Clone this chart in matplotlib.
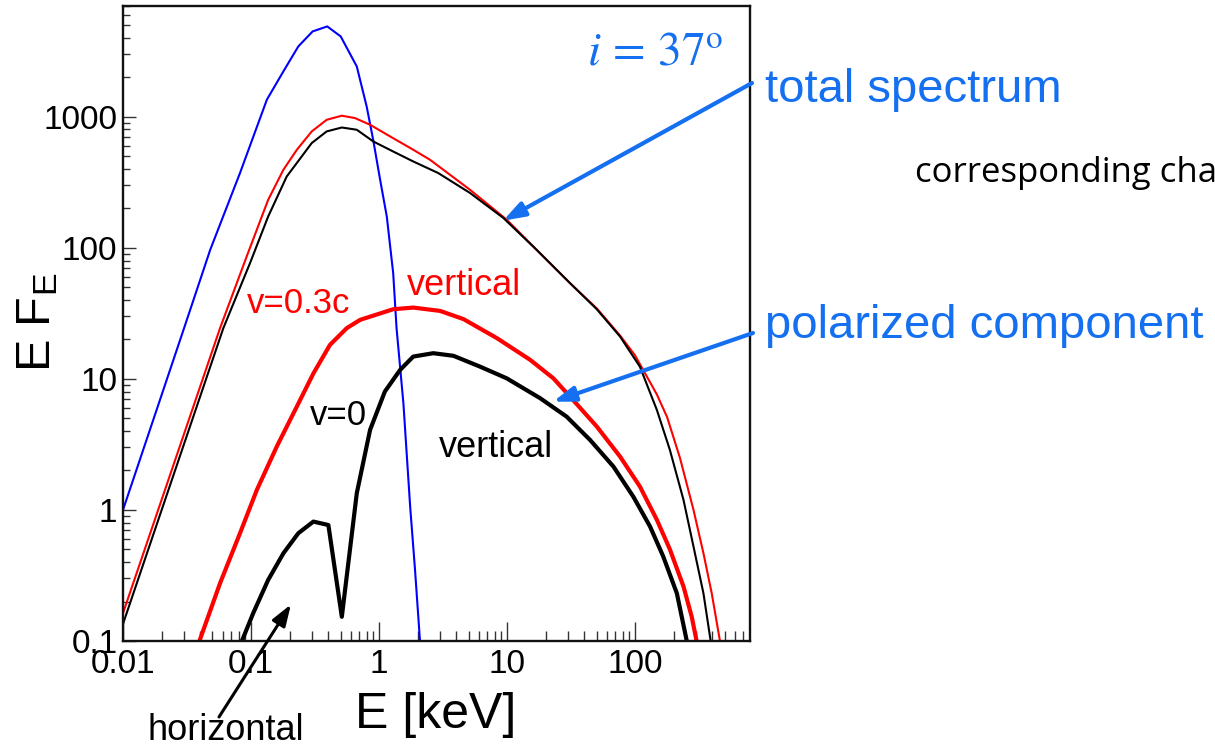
import numpy as np
import matplotlib
matplotlib.use("Agg")
import matplotlib.pyplot as plt
from matplotlib.ticker import FixedLocator, FixedFormatter, NullFormatter

plt.rcParams['font.family'] = ['Liberation Sans', 'DejaVu Sans']
plt.rcParams['mathtext.fontset'] = 'custom'
plt.rcParams['mathtext.rm'] = 'Liberation Sans'
plt.rcParams['mathtext.it'] = 'Liberation Sans:italic'

# total spectrum, thermal (blue)
e_blue = [0.01, 0.03, 0.048, 0.082, 0.133, 0.179, 0.234, 0.303, 0.394, 0.502,
          0.67, 0.80, 0.90, 1.02, 1.15, 1.29, 1.37, 1.55, 1.75, 1.91, 2.09]
f_blue = [1.0, 24.4, 96.6, 372, 1350, 2220, 3440, 4480, 4890, 4100,
          2420, 1200, 667, 330, 173, 64, 24.4, 6.5, 1.06, 0.35, 0.099]

# total spectrum, v=0.3c (red thin)
e_tot03 = [0.01, 0.0573, 0.0925, 0.136, 0.179, 0.228, 0.298, 0.390, 0.512, 0.649,
           0.851, 1.22, 1.85, 2.50, 5.14, 9.93, 17.0, 31.0, 50.2, 76.4,
           100, 148, 178, 224, 286, 342, 397, 461]
f_tot03 = [0.163, 24.4, 85.9, 232, 394, 560, 773, 948, 1019, 977,
           869, 708, 560, 470, 277, 164, 96.6, 53.8, 34.5, 21.4,
           15.1, 7.6, 5.1, 2.5, 1.0, 0.467, 0.231, 0.099]

# total spectrum, v=0 (black thin)
e_tot0 = [0.01, 0.0608, 0.0982, 0.136, 0.190, 0.298, 0.390, 0.512, 0.670, 0.904,
          1.29, 1.85, 2.90, 5.14, 9.35, 17.0, 31.0, 50.2, 76.4, 109,
          148, 187, 239, 286, 342, 390]
f_tot0 = [0.135, 24.4, 76.4, 173, 350, 630, 773, 828, 796, 647,
          543, 456, 372, 262, 169, 96.6, 53.8, 34.0, 21.0, 12.4,
          5.79, 2.87, 1.19, 0.525, 0.231, 0.099]

# polarized component, v=0.3c (red thick)
e_pol03 = [0.0394, 0.0573, 0.082, 0.111, 0.159, 0.228, 0.307, 0.414, 0.560, 0.711,
           1.29, 1.85, 3.00, 4.56, 8.30, 15.1, 23.0, 31.0, 50.2, 76.4,
           109, 148, 187, 239, 277, 303]
f_pol03 = [0.099, 0.276, 0.664, 1.42, 3.05, 6.15, 11.0, 18.2, 24.4, 28.2,
           34.0, 35.0, 33.0, 28.6, 20.5, 14.0, 10.1, 7.33, 4.33, 2.55,
           1.51, 0.84, 0.50, 0.26, 0.153, 0.099]

# polarized component, v=0 (black thick)
e_pol0 = [0.0845, 0.104, 0.136, 0.179, 0.234, 0.307, 0.402, 0.512, 0.670, 0.851,
          1.11, 1.46, 1.85, 2.65, 3.81, 6.15, 9.93, 18.1, 29.2, 44.5,
          67.8, 97.0, 131, 166, 212, 254]
f_pol0 = [0.099, 0.163, 0.292, 0.467, 0.664, 0.815, 0.767, 0.153, 1.34, 4.08,
          8.0, 11.7, 14.8, 15.7, 15.0, 12.4, 10.1, 7.13, 5.15, 3.42,
          2.14, 1.26, 0.746, 0.441, 0.231, 0.099]

xticks = [0.01, 0.1, 1, 10, 100]
xticklabels = ['0.01', '0.1', '1', '10', '100']
yticks = [0.1, 1, 10, 100, 1000]
yticklabels = ['0.1', '1', '10', '100', '1000']

W, H = 1215, 745
fig = plt.figure(figsize=(W / 100, H / 100), dpi=100)
ax = fig.add_axes([123 / W, 1 - 641 / H, 627 / W, 635 / H])

ax.plot(e_blue, f_blue, color='#0000ff', lw=1.5)
ax.plot(e_tot03, f_tot03, color='#ff0000', lw=1.5)
ax.plot(e_tot0, f_tot0, color='black', lw=1.5)
ax.plot(e_pol03, f_pol03, color='#ff0000', lw=3)
ax.plot(e_pol0, f_pol0, color='black', lw=3)

ax.set_xscale('log')
ax.set_yscale('log')
ax.set_xlim(0.01, 790)
ax.set_ylim(0.1, 7000)

ax.xaxis.set_major_locator(FixedLocator(xticks))
ax.xaxis.set_major_formatter(FixedFormatter(xticklabels))
ax.yaxis.set_major_locator(FixedLocator(yticks))
ax.yaxis.set_major_formatter(FixedFormatter(yticklabels))
ax.xaxis.set_minor_formatter(NullFormatter())
ax.yaxis.set_minor_formatter(NullFormatter())

ax.tick_params(which='both', direction='in', top=False, right=False, width=1, color='#333333')
ax.tick_params(axis='x', which='major', length=14, labelsize=24, pad=6)
ax.tick_params(axis='x', which='minor', length=7)
ax.tick_params(axis='y', which='major', length=9.5, labelsize=24, pad=4)
ax.tick_params(axis='y', which='minor', length=5)
for s in ax.spines.values():
    s.set_linewidth(1.7)
    s.set_color('#111111')

blue = '#1470f0'

ax.text(487, 2494, r'$i\,=\,37^{\mathrm{o}}$', color=blue, fontsize=34,
        ha='right', va='baseline', math_fontfamily='stix')

ax.text(0.093, 31.9, 'v=0.3c', color='#ff0000', fontsize=25, va='baseline')
ax.text(1.65, 43.7, 'vertical', color='#ff0000', fontsize=26, va='baseline')
ax.text(0.289, 4.46, 'v=0', color='black', fontsize=25, va='baseline')
ax.text(2.94, 2.54, 'vertical', color='black', fontsize=26, va='baseline')

fig.text(765 / W, 1 - 102 / H, 'total spectrum', color=blue, fontsize=34, va='baseline')
fig.text(765 / W, 1 - 338 / H, 'polarized component', color=blue, fontsize=34, va='baseline')
fig.text(915 / W, 1 - 182 / H, 'corresponding cha', color='black', fontsize=25,
         family='Open Sans', va='baseline')
fig.text(148 / W, 1 - 740 / H, 'horizontal', color='black', fontsize=26, va='baseline')

fig.text(436 / W, 1 - 728 / H, 'E [keV]', fontsize=36, ha='center', va='baseline')
fig.text(38 / W, 1 - 322 / H, r'E F$_{\mathrm{E}}$', fontsize=35, rotation=90,
         ha='center', va='center')

arrow = '-|>,head_length=1.3,head_width=0.45'
ax.annotate('', xy=(9.3, 161), xytext=(752 / W, 1 - 83 / H), textcoords='figure fraction',
            arrowprops=dict(arrowstyle=arrow, color=blue, lw=3, shrinkA=0, shrinkB=0,
                            mutation_scale=10))
ax.annotate('', xy=(22.9, 6.7), xytext=(753 / W, 1 - 333 / H), textcoords='figure fraction',
            arrowprops=dict(arrowstyle=arrow, color=blue, lw=3, shrinkA=0, shrinkB=0,
                            mutation_scale=10))
ax.annotate('', xy=(0.205, 0.19), xytext=(219 / W, 1 - 717 / H), textcoords='figure fraction',
            arrowprops=dict(arrowstyle=arrow, color='black', lw=2.2, shrinkA=0, shrinkB=0,
                            mutation_scale=10))

fig.savefig('out.png', dpi=100)
